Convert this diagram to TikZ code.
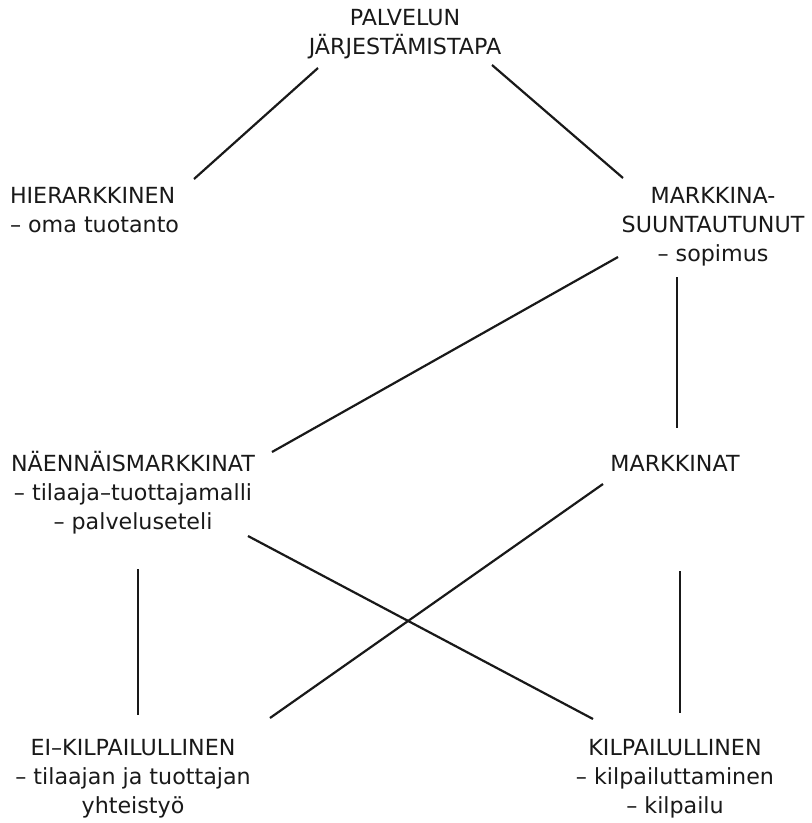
\documentclass[tikz,border=0pt]{standalone}
\usepackage{fontspec}
\setmainfont{DejaVu Sans}
\begin{document}
\begin{tikzpicture}[x=1pt,y=-1pt,
  lbl/.style={anchor=base,inner sep=0pt,outer sep=0pt,text=black!90,font=\fontsize{22.2}{29.5}\selectfont},
  lbll/.style={lbl,anchor=base west},
  link/.style={line width=2.2pt,black!90}]
\useasboundingbox (0,0) rectangle (812,823);
% service arrangement (root)
\node[lbl] (top1) at (405,25) {PALVELUN};
\node[lbl] (top2) at (405,54) {JÄRJESTÄMISTAPA};
% hierarchical
\node[lbll] (hier1) at (10,203) {HIERARKKINEN};
\node[lbll] (hier2) at (10,232) {– oma tuotanto};
% market oriented
\node[lbl] (mark1) at (713,203) {MARKKINA-};
\node[lbl] (mark2) at (713,232) {SUUNTAUTUNUT};
\node[lbl] (mark3) at (713,261) {– sopimus};
% quasi-markets
\node[lbl] (quasi1) at (133,471) {NÄENNÄISMARKKINAT};
\node[lbl] (quasi2) at (133,500) {– tilaaja–tuottajamalli};
\node[lbl] (quasi3) at (133,529) {– palveluseteli};
% markets
\node[lbl] (mkt1) at (675,471) {MARKKINAT};
% non-competitive
\node[lbl] (nonc1) at (133,755) {EI–KILPAILULLINEN};
\node[lbl] (nonc2) at (133,784) {– tilaajan ja tuottajan};
\node[lbl] (nonc3) at (133,813) {yhteistyö};
% competitive
\node[lbl] (comp1) at (675,755) {KILPAILULLINEN};
\node[lbl] (comp2) at (675,784) {– kilpailuttaminen};
\node[lbl] (comp3) at (675,813) {– kilpailu};

% connector end points
\coordinate (topL) at (318,68);
\coordinate (topR) at (492,65);
\coordinate (hierT) at (194,179);
\coordinate (markT) at (623,178);
\coordinate (markL) at (618,257);
\coordinate (markB) at (677,277);
\coordinate (quasiT) at (272,452);
\coordinate (quasiR) at (248,536);
\coordinate (quasiB) at (138,569);
\coordinate (mktT) at (677,428);
\coordinate (mktL) at (603,484);
\coordinate (mktB) at (680,571);
\coordinate (noncT) at (138,715);
\coordinate (noncR) at (270,718);
\coordinate (compT) at (680,713);
\coordinate (compL) at (593,719);

\draw[link] (topL) -- (hierT);
\draw[link] (topR) -- (markT);
\draw[link] (markL) -- (quasiT);
\draw[link] (markB) -- (mktT);
\draw[link] (mktL) -- (noncR);
\draw[link] (quasiR) -- (compL);
\draw[link] (quasiB) -- (noncT);
\draw[link] (mktB) -- (compT);
\end{tikzpicture}
\end{document}
